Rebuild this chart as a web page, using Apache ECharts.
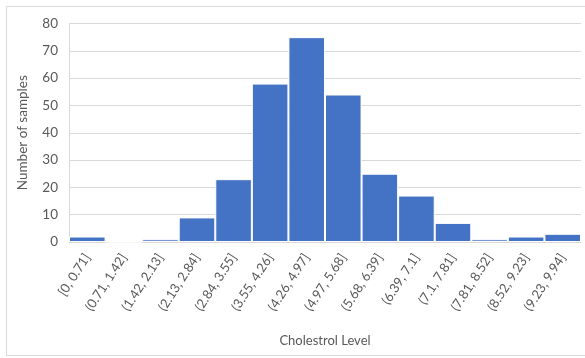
<!DOCTYPE html>
<html><head><meta charset="utf-8">
<script src="https://cdn.jsdelivr.net/npm/echarts@6/dist/echarts.min.js"></script>
<style>html,body{margin:0;padding:0;background:#fff}#c{width:585px;height:358px}</style>
</head><body><div id="c"></div>
<script>
const categories = ["[0, 0.71]","(0.71, 1.42]","(1.42, 2.13]","(2.13, 2.84]","(2.84, 3.55]","(3.55, 4.26]","(4.26, 4.97]","(4.97, 5.68]","(5.68, 6.39]","(6.39, 7.1]","(7.1, 7.81]","(7.81, 8.52]","(8.52, 9.23]","(9.23, 9.94]"];
const counts = [2, 0, 1, 9, 23, 58, 75, 54, 25, 17, 7, 1, 2, 3];
const yTicks = {min: 0, max: 80, interval: 10};
const FONT = 'Lato';
const chart = echarts.init(document.getElementById('c'), null, {renderer: 'canvas'});
chart.setOption({
  animation: false,
  textStyle: {fontFamily: FONT},
  graphic: [{type: 'rect', shape: {x: 6.5, y: 6.5, width: 590, height: 349}, style: {fill: 'none', stroke: '#d9d9d9', lineWidth: 1}, silent: true}],
  grid: {left: 69, right: 4, top: 23.5, bottom: 116, containLabel: false},
  xAxis: {
    type: 'category', data: categories,
    name: 'Cholestrol Level', nameLocation: 'middle', nameGap: 92,
    nameTextStyle: {color: '#595959', fontSize: 13, fontFamily: FONT},
    axisLine: {lineStyle: {color: '#d9d9d9'}},
    axisTick: {show: false},
    axisLabel: {rotate: 57, color: '#595959', fontSize: 13, fontFamily: FONT, interval: 0, margin: 13}
  },
  yAxis: {
    type: 'value', min: yTicks.min, max: yTicks.max, interval: yTicks.interval,
    name: 'Number of samples', nameLocation: 'middle', nameGap: 39,
    nameTextStyle: {color: '#595959', fontSize: 13.5, fontFamily: FONT},
    axisLine: {show: true, lineStyle: {color: '#d9d9d9'}},
    axisTick: {show: false},
    splitLine: {lineStyle: {color: '#d9d9d9'}},
    axisLabel: {color: '#595959', fontSize: 13.5, fontFamily: FONT, margin: 11}
  },
  series: [{
    type: 'bar', data: counts, barCategoryGap: '0%',
    itemStyle: {color: '#4472C4', borderColor: '#ffffff', borderWidth: 1}
  }]
});
</script></body></html>
